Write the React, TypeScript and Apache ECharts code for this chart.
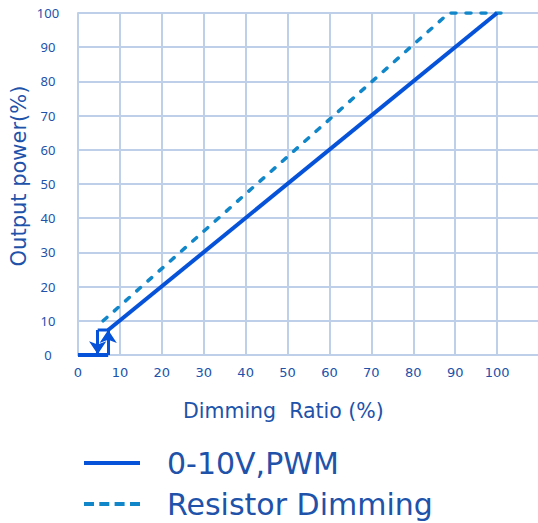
import React, { useEffect, useRef } from "react";
import * as echarts from "echarts";

const xTicks = [0, 10, 20, 30, 40, 50, 60, 70, 80, 90, 100];
const yTicks = [0, 10, 20, 30, 40, 50, 60, 70, 80, 90, 100];
const pwmLine: number[][] = [[7.2, 7.3], [100, 100]];
const pwmOff: number[][] = [[0, 0], [7.2, 0]];
const pwmLoopTop: number[][] = [[7.2, 7.3], [4.7, 7.3]];
const arrowUp: number[][] = [[7.2, 0], [7.2, 7.3]];
const arrowDown: number[][] = [[4.7, 7.3], [4.7, 0.2]];
const resistorLine: number[][] = [[6, 10], [88.5, 100], [101, 100]];
const seriesNames = ["0-10V,PWM", "Resistor Dimming"];
const xTitle = "Dimming  Ratio (%)";
const yTitle = "Output power(%)";

const SOLID = "#0652d9";
const DASH = "#1187c9";
const TEXT = "#2152aa";
const GRID = "#bdcfe9";
const FONT = "Noto Sans";
const WIDE = "DejaVu Sans";

const solidIcon = "path://M0,0H56V4H0Z";
const dashIcon =
  "path://M0,0H10V4H0Z M15.3,0H25.3V4H15.3Z M30.6,0H40.6V4H30.6Z M46,0H56V4H46Z";

export default function App() {
  const ref = useRef<HTMLDivElement>(null);
  useEffect(() => {
    if (!ref.current) return;
    const chart = echarts.init(ref.current, undefined, { renderer: "svg" });
    const legendText = {
      color: TEXT,
      fontSize: 30,
      fontFamily: WIDE,
      lineHeight: 36,
      padding: [0, 0, 0, 22],
    };
    chart.setOption({
      animation: false,
      textStyle: { fontFamily: FONT },
      grid: {
        left: 78,
        right: -1,
        top: 13,
        bottom: 168,
        containLabel: false,
        outerBoundsMode: "none",
      },
      xAxis: {
        type: "value",
        min: 0,
        max: 110,
        interval: 10,
        axisLine: { show: true, lineStyle: { color: GRID, width: 2 } },
        axisTick: { show: false },
        splitLine: { show: true, lineStyle: { color: GRID, width: 2 } },
        axisLabel: {
          color: TEXT,
          fontSize: 13,
          margin: 11,
          fontFamily: WIDE,
          formatter: (v: number) => (xTicks.includes(v) ? String(v) : ""),
        },
      },
      yAxis: {
        type: "value",
        min: 0,
        max: 100,
        interval: 10,
        axisLine: { show: true, lineStyle: { color: GRID, width: 2 } },
        axisTick: { show: false },
        splitLine: { show: true, lineStyle: { color: GRID, width: 2 } },
        axisLabel: {
          color: TEXT,
          fontSize: 13,
          margin: 30,
          align: "center",
          fontFamily: FONT,
          formatter: (v: number) => (yTicks.includes(v) ? String(v) : ""),
        },
      },
      legend: [
        {
          left: 79,
          top: 440,
          itemWidth: 56,
          itemHeight: 4,
          data: [{ name: seriesNames[0], icon: solidIcon }],
          itemStyle: { color: SOLID },
          textStyle: legendText,
        },
        {
          left: 79,
          top: 481,
          itemWidth: 56,
          itemHeight: 4,
          data: [{ name: seriesNames[1], icon: dashIcon }],
          itemStyle: { color: DASH },
          textStyle: legendText,
        },
      ],
      graphic: [
        {
          type: "text",
          left: 183,
          top: 400,
          style: {
            text: xTitle,
            fill: TEXT,
            fontSize: 20.5,
            fontFamily: WIDE,
          },
        },
        {
          type: "text",
          x: 18.5,
          y: 176,
          rotation: Math.PI / 2,
          style: {
            text: yTitle,
            fill: TEXT,
            fontSize: 21,
            fontFamily: WIDE,
            align: "center",
            verticalAlign: "middle",
          },
        },
      ],
      series: [
        {
          name: seriesNames[0],
          type: "line",
          data: pwmLine,
          symbol: "none",
          lineStyle: { color: SOLID, width: 4 },
          itemStyle: { color: SOLID },
          z: 5,
        },
        {
          name: "pwm-off",
          type: "line",
          data: pwmOff,
          symbol: "none",
          lineStyle: { color: SOLID, width: 4 },
          z: 5,
        },
        {
          name: "pwm-loop",
          type: "line",
          data: pwmLoopTop,
          symbol: "none",
          lineStyle: { color: SOLID, width: 3 },
          z: 5,
        },
        {
          name: "pwm-arrows",
          type: "lines",
          coordinateSystem: "cartesian2d",
          symbol: ["none", "arrow"],
          symbolSize: 13,
          lineStyle: { color: SOLID, width: 3, opacity: 1 },
          data: [{ coords: arrowUp }, { coords: arrowDown }],
          z: 5,
        },
        {
          name: seriesNames[1],
          type: "line",
          data: resistorLine,
          symbol: "none",
          lineStyle: { color: DASH, width: 3.5, type: [5, 10], cap: "round" },
          itemStyle: { color: DASH },
          z: 4,
        },
      ],
    });
    return () => chart.dispose();
  }, []);
  return (
    <div
      ref={ref}
      style={{ width: 538, height: 523, position: "absolute", left: 0, top: 0 }}
    />
  );
}
